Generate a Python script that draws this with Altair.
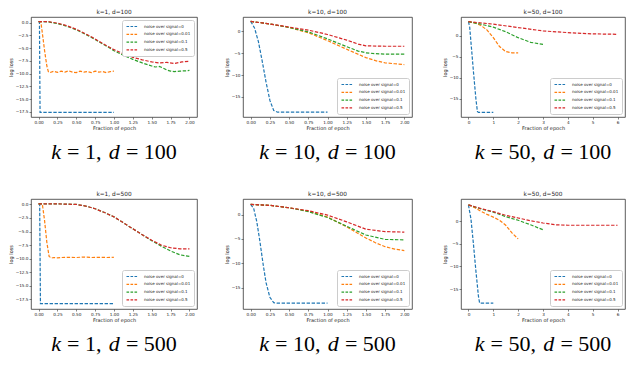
import altair as alt
import pandas as pd

SERIES = ["noise over signal=0", "noise over signal=0.01",
          "noise over signal=0.1", "noise over signal=0.5"]
COLORS = ["#1f77b4", "#ff7f0e", "#2ca02c", "#d62728"]

# ---------- panel 1: k=1, d=100 ----------
P1_BLUE_X = [0.0, 0.012, 0.02, 0.2, 0.4, 0.6, 0.8, 1.0]
P1_BLUE_Y = [0.2, 0.2, -17.6, -17.6, -17.6, -17.6, -17.6, -17.6]
P1_ORANGE_X = [0.0, 0.03, 0.05, 0.08, 0.11, 0.13, 0.15, 0.2, 0.25, 0.3, 0.35, 0.4, 0.45,
               0.5, 0.55, 0.6, 0.65, 0.7, 0.75, 0.8, 0.85, 0.9, 0.95, 1.0]
P1_ORANGE_Y = [0.2, 0.2, -2.0, -5.5, -8.5, -9.6, -9.8, -9.55, -9.75, -9.5, -9.7, -9.45, -9.7,
               -9.8, -9.5, -9.7, -9.6, -9.8, -9.5, -9.7, -9.6, -9.8, -9.6, -9.5]
P1_GREEN_X = [0.0, 0.125, 0.25, 0.375, 0.5, 0.625, 0.75, 0.875, 1.0, 1.125, 1.25, 1.375,
              1.5, 1.55, 1.6, 1.65, 1.7, 1.75, 1.8, 1.875, 1.95, 2.0]
P1_GREEN_Y = [0.2, 0.15, -0.2, -0.7, -1.4, -2.3, -3.3, -4.4, -5.5, -6.4, -7.2, -7.9,
              -8.5, -8.7, -8.6, -8.9, -9.3, -9.5, -9.6, -9.5, -9.45, -9.35]
P1_RED_X = [0.0, 0.125, 0.25, 0.375, 0.5, 0.625, 0.75, 0.875, 1.0, 1.125, 1.25, 1.375,
            1.5, 1.6, 1.7, 1.8, 1.9, 2.0]
P1_RED_Y = [0.2, 0.2, -0.1, -0.6, -1.3, -2.2, -3.2, -4.3, -5.3, -6.1, -6.8, -7.3,
            -7.7, -7.9, -7.8, -8.0, -7.7, -7.6]

# ---------- panel 2: k=10, d=100 ----------
P2_BLUE_X = [0.0, 0.05, 0.1, 0.15, 0.2, 0.25, 0.3, 0.35, 0.5, 0.75, 1.0]
P2_BLUE_Y = [2.3, 0.8, -2.3, -6.8, -11.6, -15.8, -18.1, -18.5, -18.5, -18.5, -18.5]
P2_ORANGE_X = [0.0, 0.25, 0.5, 0.75, 1.0, 1.25, 1.5, 1.625, 1.75, 1.875, 2.0]
P2_ORANGE_Y = [2.3, 1.7, 0.9, -0.3, -2.1, -4.1, -6.0, -6.7, -7.2, -7.4, -7.6]
P2_GREEN_X = [0.0, 0.25, 0.5, 0.75, 1.0, 1.25, 1.4, 1.5, 1.625, 1.75, 2.0]
P2_GREEN_Y = [2.3, 1.7, 0.9, -0.1, -1.7, -3.5, -4.5, -4.9, -5.1, -5.2, -5.2]
P2_RED_X = [0.0, 0.25, 0.5, 0.75, 1.0, 1.25, 1.4, 1.5, 1.75, 2.0]
P2_RED_Y = [2.3, 1.7, 1.0, 0.3, -0.7, -2.0, -2.9, -3.3, -3.4, -3.4]

# ---------- panel 3: k=50, d=100 ----------
P3_BLUE_X = [0.0, 0.05, 0.1, 0.2, 0.3, 0.36, 0.4, 0.7, 1.0]
P3_BLUE_Y = [3.3, 2.0, -1.5, -8.5, -15.0, -18.0, -18.2, -18.2, -18.2]
P3_ORANGE_X = [0.0, 0.25, 0.5, 0.75, 1.0, 1.25, 1.5, 1.75, 2.0]
P3_ORANGE_Y = [3.3, 3.0, 2.4, 1.3, -0.5, -2.6, -3.8, -4.1, -4.1]
P3_GREEN_X = [0.0, 0.5, 1.0, 1.5, 2.0, 2.5, 3.0]
P3_GREEN_Y = [3.3, 2.7, 2.0, 0.9, -0.5, -1.6, -2.1]
P3_RED_X = [0.0, 1.0, 2.0, 3.0, 4.0, 5.0, 6.0]
P3_RED_Y = [3.3, 2.7, 1.9, 1.1, 0.7, 0.4, 0.3]

# ---------- panel 4: k=1, d=500 ----------
P4_BLUE_X = [0.0, 0.015, 0.025, 0.25, 0.5, 0.75, 1.0]
P4_BLUE_Y = [0.1, 0.1, -18.3, -18.3, -18.3, -18.3, -18.3]
P4_ORANGE_X = [0.0, 0.05, 0.08, 0.11, 0.14, 0.17, 0.2, 0.25, 0.3, 0.4, 0.5, 0.6, 0.7, 0.8, 0.9, 1.0]
P4_ORANGE_Y = [0.1, 0.1, -3.0, -7.0, -9.6, -9.9, -9.8, -9.85, -9.8, -9.75, -9.8, -9.7, -9.8,
               -9.75, -9.8, -9.75]
P4_GREEN_X = [0.0, 0.25, 0.5, 0.625, 0.75, 0.875, 1.0, 1.125, 1.25, 1.375, 1.5, 1.625, 1.75,
              1.875, 2.0]
P4_GREEN_Y = [0.1, 0.1, 0.0, -0.3, -0.8, -1.5, -2.3, -3.4, -4.5, -5.6, -6.7, -7.7, -8.6,
              -9.3, -9.6]
P4_RED_X = [0.0, 0.25, 0.5, 0.625, 0.75, 0.875, 1.0, 1.125, 1.25, 1.375, 1.5, 1.625, 1.75,
            1.875, 2.0]
P4_RED_Y = [0.1, 0.1, 0.0, -0.3, -0.8, -1.5, -2.3, -3.4, -4.5, -5.6, -6.6, -7.5, -8.0,
            -8.2, -8.2]

# ---------- panel 5: k=10, d=500 ----------
P5_BLUE_X = [0.0, 0.04, 0.08, 0.12, 0.16, 0.2, 0.25, 0.3, 0.35, 0.5, 0.75, 1.0]
P5_BLUE_Y = [2.1, 1.2, -1.5, -5.5, -10.0, -14.0, -17.0, -18.1, -18.2, -18.2, -18.2, -18.2]
P5_ORANGE_X = [0.0, 0.25, 0.5, 0.75, 1.0, 1.25, 1.5, 1.625, 1.75, 1.875, 2.0]
P5_ORANGE_Y = [2.1, 1.9, 1.4, 0.7, -0.5, -2.5, -4.8, -5.8, -6.6, -7.1, -7.4]
P5_GREEN_X = [0.0, 0.25, 0.5, 0.75, 1.0, 1.25, 1.5, 1.75, 2.0]
P5_GREEN_Y = [2.1, 1.9, 1.4, 0.6, -0.6, -2.4, -4.2, -5.1, -5.2]
P5_RED_X = [0.0, 0.25, 0.5, 0.75, 1.0, 1.25, 1.5, 1.75, 2.0]
P5_RED_Y = [2.1, 1.9, 1.4, 0.8, -0.1, -1.5, -3.0, -3.5, -3.6]

# ---------- panel 6: k=50, d=500 ----------
P6_BLUE_X = [0.0, 0.1, 0.2, 0.3, 0.4, 0.45, 0.7, 1.0]
P6_BLUE_Y = [3.6, 0.5, -5.0, -11.0, -16.5, -18.1, -18.1, -18.1]
P6_ORANGE_X = [0.0, 0.25, 0.5, 0.75, 1.0, 1.25, 1.5, 1.75, 2.0]
P6_ORANGE_Y = [3.6, 3.0, 2.2, 1.5, 0.9, 0.2, -0.9, -2.6, -3.9]
P6_GREEN_X = [0.0, 0.5, 1.0, 1.5, 2.0, 2.5, 3.0]
P6_GREEN_Y = [3.6, 2.7, 2.0, 1.0, 0.2, -0.8, -1.9]
P6_RED_X = [0.0, 0.5, 1.0, 1.5, 2.0, 2.5, 3.0, 3.5, 4.0, 5.0, 6.0]
P6_RED_Y = [3.6, 2.8, 2.1, 1.3, 0.7, 0.1, -0.4, -0.8, -0.9, -0.9, -0.9]

TICKS_Y_SMALL = [0.0, -2.5, -5.0, -7.5, -10.0, -12.5, -15.0, -17.5]
TICKS_Y_BIG = [0, -5, -10, -15]
TICKS_X_2 = [0.0, 0.25, 0.5, 0.75, 1.0, 1.25, 1.5, 1.75, 2.0]
TICKS_X_6 = [0, 1, 2, 3, 4, 5, 6]

FONT = "DejaVu Sans"
CAP_SIZE = 22
CAP_DY = 42
METRIC = {"k": 0.444, "d": 0.5, "=": 0.564, " ": 0.25, ",": 0.25,
          "0": 0.5, "1": 0.5, "5": 0.5}


def caption(k, d, w, h):
    segs = [("k", "italic", 0.28), ("= %d," % k, "normal", 0.33),
            ("d", "italic", 0.28), ("= %d" % d, "normal", 0.0)]
    widths = [sum(METRIC[c] for c in t) * CAP_SIZE + g * CAP_SIZE for t, _, g in segs]
    x0 = w / 2 - sum(widths) / 2
    layers = []
    for (t, style, g), wd in zip(segs, widths):
        layers.append(
            alt.Chart(pd.DataFrame({"t": [t]})).mark_text(
                align="left", baseline="alphabetic", font="Liberation Serif",
                fontSize=CAP_SIZE, fontStyle=style, color="black"
            ).encode(text="t:N", x=alt.value(x0), y=alt.value(h + CAP_DY))
        )
        x0 += wd
    return layers


def panel(title, series, xdom, ydom, xticks, yticks, xfmt, yfmt, orient, k, d, w, h):
    rows = []
    for name, (xs, ys) in zip(SERIES, series):
        for xv, yv in zip(xs, ys):
            rows.append({"x": xv, "y": yv, "s": name})
    df = pd.DataFrame(rows)
    lines = alt.Chart(df).mark_line(strokeWidth=1.2, strokeDash=[3.4, 1.6], clip=True).encode(
        x=alt.X("x:Q", scale=alt.Scale(domain=xdom, nice=False, zero=False),
                axis=alt.Axis(values=xticks, format=xfmt, title="Fraction of epoch")),
        y=alt.Y("y:Q", scale=alt.Scale(domain=ydom, nice=False, zero=False),
                axis=alt.Axis(values=yticks, format=yfmt, title="log loss")),
        color=alt.Color("s:N", scale=alt.Scale(domain=SERIES, range=COLORS),
                        legend=alt.Legend(title=None, orient=orient, offset=3,
                                          fillColor="white", strokeColor="#cccccc",
                                          padding=3, cornerRadius=2, labelFontSize=4.0,
                                          labelFont=FONT, labelColor="#222222",
                                          symbolType="M-2.4,0H2.4", symbolSize=25,
                                          symbolOffset=4, symbolFillColor="transparent",
                                          symbolStrokeWidth=1.2, symbolDash=[2.6, 1.4],
                                          rowPadding=1.8, labelOffset=8, labelLimit=200)),
        order=alt.Order("x:Q"),
    )
    return alt.layer(lines, *caption(k, d, w, h)).properties(
        width=w, height=h,
        title=alt.TitleParams(title, fontSize=5.8, font=FONT, fontWeight="normal",
                              offset=2, color="#222222"),
    )


H1, H2 = 100, 110
WA, WB, WC = 166, 169, 164

p1 = panel("k=1, d=100", [(P1_BLUE_X, P1_BLUE_Y), (P1_ORANGE_X, P1_ORANGE_Y),
                          (P1_GREEN_X, P1_GREEN_Y), (P1_RED_X, P1_RED_Y)],
           [-0.1, 2.1], [-18.5, 1.1], TICKS_X_2, TICKS_Y_SMALL, ".2f", ".1f", "top-right",
           1, 100, WA, H1)
p2 = panel("k=10, d=100", [(P2_BLUE_X, P2_BLUE_Y), (P2_ORANGE_X, P2_ORANGE_Y),
                           (P2_GREEN_X, P2_GREEN_Y), (P2_RED_X, P2_RED_Y)],
           [-0.1, 2.1], [-19.6, 3.3], TICKS_X_2, TICKS_Y_BIG, ".2f", "d", "bottom-right",
           10, 100, WB, H1)
p3 = panel("k=50, d=100", [(P3_BLUE_X, P3_BLUE_Y), (P3_ORANGE_X, P3_ORANGE_Y),
                           (P3_GREEN_X, P3_GREEN_Y), (P3_RED_X, P3_RED_Y)],
           [-0.3, 6.3], [-19.3, 4.4], TICKS_X_6, TICKS_Y_BIG, "d", "d", "bottom-right",
           50, 100, WC, H1)
p4 = panel("k=1, d=500", [(P4_BLUE_X, P4_BLUE_Y), (P4_ORANGE_X, P4_ORANGE_Y),
                          (P4_GREEN_X, P4_GREEN_Y), (P4_RED_X, P4_RED_Y)],
           [-0.1, 2.1], [-19.3, 1.0], TICKS_X_2, TICKS_Y_SMALL, ".2f", ".1f", "bottom-right",
           1, 500, WA, H2)
p5 = panel("k=10, d=500", [(P5_BLUE_X, P5_BLUE_Y), (P5_ORANGE_X, P5_ORANGE_Y),
                           (P5_GREEN_X, P5_GREEN_Y), (P5_RED_X, P5_RED_Y)],
           [-0.1, 2.1], [-19.4, 3.2], TICKS_X_2, TICKS_Y_BIG, ".2f", "d", "bottom-right",
           10, 500, WB, H2)
p6 = panel("k=50, d=500", [(P6_BLUE_X, P6_BLUE_Y), (P6_ORANGE_X, P6_ORANGE_Y),
                           (P6_GREEN_X, P6_GREEN_Y), (P6_RED_X, P6_RED_Y)],
           [-0.3, 6.3], [-19.4, 4.9], TICKS_X_6, TICKS_Y_BIG, "d", "d", "bottom-right",
           50, 500, WC, H2)


def row(a, b, c):
    left = alt.hconcat(a, b, spacing=26).resolve_scale(color="independent").resolve_legend(
        color="independent")
    return alt.hconcat(left, c, spacing=29).resolve_scale(color="independent").resolve_legend(
        color="independent")


chart = alt.vconcat(row(p1, p2, p3), row(p4, p5, p6), spacing=26).resolve_scale(
    color="independent"
).resolve_legend(
    color="independent"
).properties(padding=0).configure_view(
    stroke="#333333", strokeWidth=0.8
).configure_axis(
    labelFontSize=4.2, titleFontSize=5, labelFont=FONT, titleFont=FONT,
    labelColor="#222222", titleColor="#222222", tickColor="#333333",
    tickSize=2, tickWidth=0.6, domain=False, grid=False, labelPadding=1,
    titlePadding=1.5, titleFontWeight="normal", labelOverlap=False, labelFlush=False
)

chart.save("out.html", embed_options={"renderer": "svg", "actions": False})
